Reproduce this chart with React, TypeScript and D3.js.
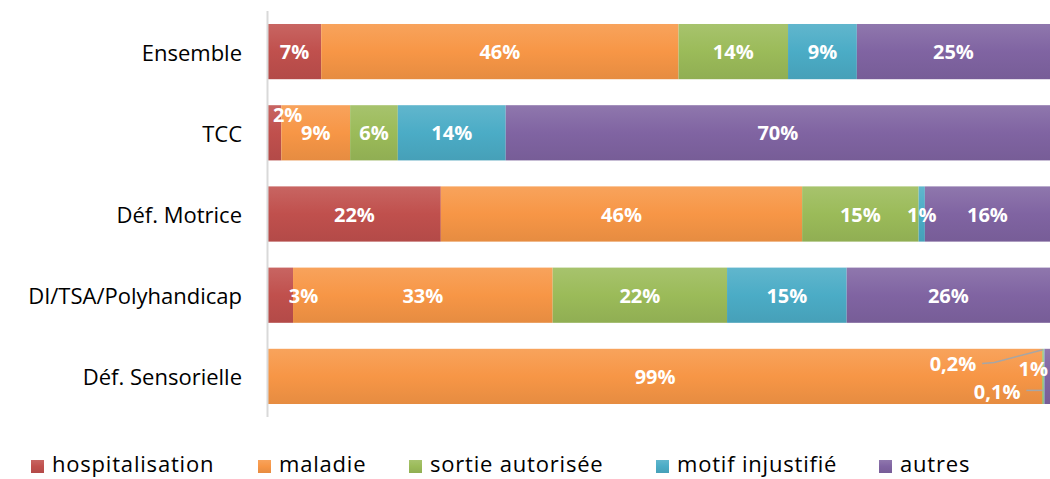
import React from 'react';
import * as d3 from 'd3';

const categories = ['Ensemble', 'TCC', 'Déf. Motrice', 'DI/TSA/Polyhandicap', 'Déf. Sensorielle'];
const seriesNames = ['hospitalisation', 'maladie', 'sortie autorisée', 'motif injustifié', 'autres'];
const seriesColors = ['#C0504D', '#F79646', '#9BBB59', '#4BACC6', '#8064A2'];

// share of each motive per category (%), one array per series
const hospitalisation = [6.8, 1.7, 22.1, 3.2, 0];
const maladie = [45.7, 8.8, 46.2, 33.2, 99.0];
const sortieAutorisee = [14.0, 6.1, 14.9, 22.3, 0.2];
const motifInjustifie = [8.8, 13.8, 0.8, 15.3, 0.1];
const autres = [24.7, 69.6, 16.0, 26.0, 0.7];

// data labels as printed on the chart
const hospitalisationLabels = ['7%', '2%', '22%', '3%', ''];
const maladieLabels = ['46%', '9%', '46%', '33%', '99%'];
const sortieLabels = ['14%', '6%', '15%', '22%', '0,2%'];
const motifLabels = ['9%', '14%', '1%', '15%', '0,1%'];
const autresLabels = ['25%', '70%', '16%', '26%', '1%'];

const allValues = [hospitalisation, maladie, sortieAutorisee, motifInjustifie, autres];
const allLabels = [hospitalisationLabels, maladieLabels, sortieLabels, motifLabels, autresLabels];

const W = 1050;
const H = 479;
const FONT = "'Open Sans', 'Noto Sans', sans-serif";

// labels that Excel moved off the segment centre
const labelShift: Record<string, { dx: number; dy: number; leader?: 'up' | 'side' }> = {
  'TCC|0': { dx: 13, dy: -18 },
  'DI/TSA/Polyhandicap|0': { dx: 23, dy: 0 },
  'Déf. Sensorielle|2': { dx: -90, dy: -13, leader: 'up' },
  'Déf. Sensorielle|3': { dx: -47, dy: 15, leader: 'side' },
  'Déf. Sensorielle|4': { dx: -14, dy: -8 },
};

export default function App() {
  const rows = categories.map((c, i) => {
    const r: Record<string, any> = { category: c };
    seriesNames.forEach((s, j) => (r[s] = allValues[j][i]));
    return r;
  });

  const stacked = d3.stack<any>().keys(seriesNames).offset(d3.stackOffsetExpand)(rows);

  const x = d3.scaleLinear().domain([0, 1]).range([268, W]);
  const y = d3.scaleBand().domain(categories).range([11, 417]).paddingInner(0.32).paddingOuter(0.16);
  const bw = y.bandwidth();

  const legendX = [31, 258, 409, 656, 879];

  return (
    <div style={{ position: 'absolute', left: 0, top: 0 }}>
      <svg width={W} height={H} style={{ display: 'block', fontFamily: FONT }}>
        <defs>
          {seriesColors.map((c, j) => (
            <linearGradient key={j} id={`g${j}`} x1="0" y1="0" x2="0" y2="1">
              <stop offset="0" stopColor={d3.interpolateRgb(c, '#ffffff')(0.12)} />
              <stop offset="0.5" stopColor={c} />
              <stop offset="1" stopColor={d3.interpolateRgb(c, '#000000')(0.07)} />
            </linearGradient>
          ))}
        </defs>

        {stacked.map((layer, j) => (
          <g key={layer.key} fill={`url(#g${j})`}>
            {layer.map((d, i) => {
              const w = x(d[1]) - x(d[0]);
              if (w <= 0) return null;
              return <rect key={i} x={x(d[0])} y={y(categories[i])} width={w} height={bw} />;
            })}
          </g>
        ))}

        {/* category axis */}
        <line x1={267.5} x2={267.5} y1={11} y2={417} stroke="#D9D9D9" strokeWidth={2} />
        {categories.map((c) => (
          <text key={c} x={242} y={(y(c) as number) + bw / 2} textAnchor="end" dominantBaseline="central"
            fontSize={22} fill="#000">{c}</text>
        ))}

        {/* data labels */}
        {stacked.map((layer, j) =>
          layer.map((d, i) => {
            const txt = allLabels[j][i];
            if (!txt) return null;
            const cat = categories[i];
            const top = y(cat) as number;
            const cx = (x(d[0]) + x(d[1])) / 2;
            const cy = top + bw / 2;
            const sh = labelShift[`${cat}|${j}`] || { dx: 0, dy: 0 };
            const lx = cx + sh.dx;
            const ly = cy + sh.dy;
            const half = txt.length * 5.8;
            let leader = null;
            if (sh.leader === 'up') {
              leader = <polyline points={`${lx + half + 6},${ly} ${lx + half + 18},${ly - 1} ${cx},${top + 1}`}
                fill="none" stroke="#A6A6A6" strokeWidth={1.5} />;
            } else if (sh.leader === 'side') {
              leader = <polyline points={`${lx + half + 6},${ly - 1} ${cx},${ly - 1}`}
                fill="none" stroke="#A6A6A6" strokeWidth={1.5} />;
            }
            return (
              <g key={`${j}-${i}`}>
                {leader}
                <text x={lx} y={ly} textAnchor="middle" dominantBaseline="central" fontSize={20}
                  fontWeight="bold" fill="#fff">{txt}</text>
              </g>
            );
          })
        )}

        {/* legend */}
        {seriesNames.map((s, j) => (
          <g key={s} transform={`translate(${legendX[j]},460)`}>
            <rect width={13} height={13} fill={`url(#g${j})`} />
            <text x={21} y={3} dominantBaseline="central" fontSize={22} letterSpacing={0.8} fill="#000">{s}</text>
          </g>
        ))}
      </svg>
    </div>
  );
}
